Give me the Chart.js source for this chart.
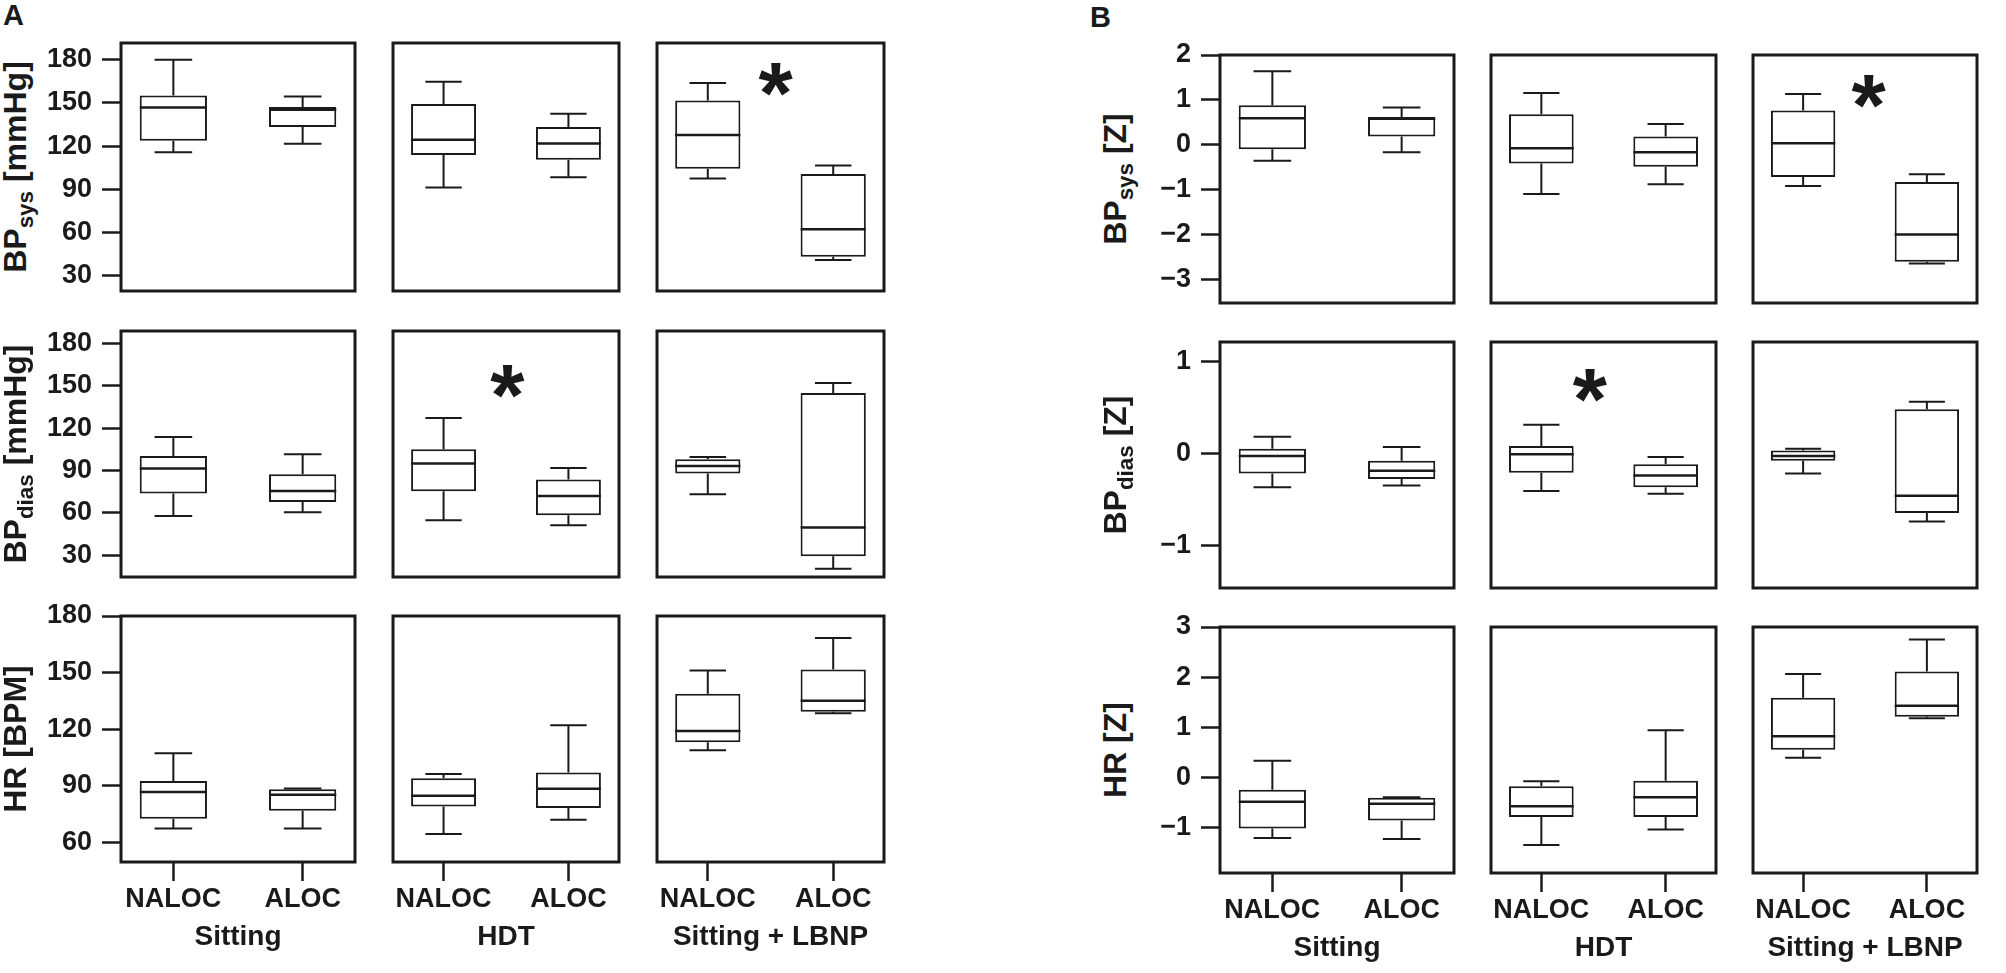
<!DOCTYPE html>
<html>
<head>
<meta charset="utf-8">
<script src="https://cdn.jsdelivr.net/npm/chart.js@4.4.0/dist/chart.umd.min.js"></script>
<style>
  html, body { margin: 0; padding: 0; background: #fff; overflow: hidden; }
  #wrap { position: relative; width: 2006px; height: 973px; font-family: "Liberation Sans", Arial, sans-serif; color: #1a1a1a; }
  canvas { position: absolute; }
  .lbl { position: absolute; font-weight: bold; font-size: 29px; line-height: 1; }
  .yt { position: absolute; font-weight: bold; font-size: 32px; line-height: 1; white-space: nowrap;
        transform: translate(-50%, -50%) rotate(-90deg); z-index: 2; }
  .yt sub { font-size: 0.7em; vertical-align: -0.3em; line-height: 0; }
</style>
</head>
<body>
<div id="wrap"></div>
<script>
const groups = ['NALOC', 'ALOC'];
const conditions = ['Sitting', 'HDT', 'Sitting + LBNP'];

// [min, q1, median, q3, max] for NALOC, ALOC
// A - raw values
const sysSitting  = [[115.8, 123.7, 146.8, 155.2, 180.0], [121.6, 133.2, 145.2, 147.1, 154.5]];
const sysHDT      = [[91.2, 113.9, 124.4, 149.2, 164.7], [98.4, 110.5, 121.8, 133.2, 142.4]];
const sysLBNP     = [[97.5, 104.2, 127.8, 151.7, 163.8], [41.0, 43.2, 62.3, 100.7, 106.5]];
const diasSitting = [[57.8, 73.7, 91.4, 100.3, 113.8], [60.4, 67.7, 75.5, 87.4, 101.5]];
const diasHDT     = [[54.8, 75.3, 95.0, 105.1, 127.3], [51.2, 58.3, 72.0, 83.6, 91.8]];
const diasLBNP    = [[73.2, 87.9, 93.3, 98.0, 99.6], [20.5, 29.3, 49.6, 145.0, 152.1]];
const hrSitting   = [[67.4, 72.5, 86.7, 92.6, 107.3], [67.3, 76.8, 85.2, 88.2, 88.6]];
const hrHDT       = [[64.5, 79.0, 84.7, 94.0, 96.3], [72.0, 78.2, 88.4, 97.0, 122.1]];
const hrLBNP      = [[108.9, 113.1, 119.1, 138.8, 151.1], [128.4, 129.3, 135.1, 151.7, 168.4]];
// B - z scores
const zSysSitting  = [[-0.36, -0.10, 0.59, 0.88, 1.64], [-0.17, 0.18, 0.58, 0.62, 0.83]];
const zSysHDT      = [[-1.10, -0.42, -0.08, 0.68, 1.15], [-0.88, -0.49, -0.17, 0.18, 0.46]];
const zSysLBNP     = [[-0.92, -0.72, 0.03, 0.76, 1.13], [-2.65, -2.61, -2.00, -0.83, -0.66]];
const zDiasSitting = [[-0.37, -0.22, -0.03, 0.05, 0.18], [-0.35, -0.28, -0.19, -0.08, 0.07]];
const zDiasHDT     = [[-0.41, -0.21, -0.01, 0.08, 0.31], [-0.44, -0.37, -0.24, -0.12, -0.04]];
const zDiasLBNP    = [[-0.22, -0.08, -0.03, 0.03, 0.05], [-0.74, -0.65, -0.46, 0.48, 0.56]];
const zHrSitting   = [[-1.21, -1.02, -0.49, -0.25, 0.33], [-1.23, -0.86, -0.53, -0.41, -0.40]];
const zHrHDT       = [[-1.35, -0.79, -0.58, -0.18, -0.08], [-1.04, -0.79, -0.40, -0.07, 0.94]];
const zHrLBNP      = [[0.39, 0.55, 0.82, 1.59, 2.06], [1.18, 1.21, 1.43, 2.11, 2.75]];

// significance markers: [x, y] in data units, per panel
const starSysLBNP   = [1.54, 166];
const starDiasHDT   = [1.51, 153];
const starZSysLBNP  = [1.53, 1.18];
const starZDiasHDT  = [1.39, 0.74];

const rawTicks = [[30, 60, 90, 120, 150, 180], [30, 60, 90, 120, 150, 180], [60, 90, 120, 150, 180]];
const zTicks   = [[-3, -2, -1, 0, 1, 2], [-1, 0, 1], [-1, 0, 1, 2, 3]];
const rawRanges = [[19.4, 191.6], [14.6, 188.9], [49.6, 180]];
const zRanges   = [[-3.53, 2], [-1.464, 1.21], [-1.91, 3]];

const rawTitles = ['BP<sub>sys</sub> [mmHg]', 'BP<sub>dias</sub> [mmHg]', 'HR [BPM]'];
const zTitles   = ['BP<sub>sys</sub> [Z]', 'BP<sub>dias</sub> [Z]', 'HR [Z]'];

const ink = '#1a1a1a';
const fam = '"Liberation Sans", Arial, sans-serif';

// frame positions of the panels
const layoutA = { cols: [[121, 355], [393, 619], [657, 884]], rows: [[43, 291], [331, 577], [616, 862]], titleX: 15, tag: [3, 1] };
const layoutB = { cols: [[1220, 1454], [1491, 1716], [1753, 1977]], rows: [[55, 303], [342, 588], [627, 873]], titleX: 1115, tag: [1090, 3] };

const boxPlugin = {
  id: 'boxplot',
  afterDatasetsDraw(chart, args, opts) {
    const { ctx, chartArea: a, scales: { x, y } } = chart;
    const meta = chart.getDatasetMeta(0);
    ctx.save();
    ctx.strokeStyle = ink;
    ctx.fillStyle = ink;
    opts.summary.forEach((s, i) => {
      const bar = meta.data[i];
      const cx = bar.x, hw = bar.width / 2, cw = hw * 0.56;
      const py = v => y.getPixelForValue(v);
      ctx.lineWidth = 2;
      ctx.beginPath();
      ctx.moveTo(cx, py(s[3])); ctx.lineTo(cx, py(s[4]));
      ctx.moveTo(cx - cw, py(s[4])); ctx.lineTo(cx + cw, py(s[4]));
      ctx.moveTo(cx, py(s[1])); ctx.lineTo(cx, py(s[0]));
      ctx.moveTo(cx - cw, py(s[0])); ctx.lineTo(cx + cw, py(s[0]));
      ctx.stroke();
      ctx.lineWidth = 2.5;
      ctx.beginPath();
      ctx.moveTo(cx - hw, py(s[2])); ctx.lineTo(cx + hw, py(s[2]));
      ctx.stroke();
    });
    if (opts.star) {
      ctx.font = 'bold 88px ' + fam;
      ctx.textAlign = 'center';
      ctx.textBaseline = 'alphabetic';
      const m = ctx.measureText('*');
      // centre the glyph's ink on the marker position
      const off = (m.actualBoundingBoxAscent - m.actualBoundingBoxDescent) / 2;
      ctx.fillText('*', x.getPixelForValue(opts.star[0]), y.getPixelForValue(opts.star[1]) + off);
    }
    ctx.lineWidth = 3;
    ctx.strokeRect(a.left, a.top, a.width, a.height);
    ctx.restore();
  }
};

const wrap = document.getElementById('wrap');

function makePanel(lay, r, c, summary, range, ticks, star) {
  const showY = c === 0, showX = r === 2;
  const [L, R] = lay.cols[c], [T, B] = lay.rows[r];
  // margins leave room for half a tick label above and below the y axis
  const padT = 30, padR = 16, axW = 82, axH = 92;
  const mL = showY ? axW : 6, mB = showX ? axH : 30;
  const cv = document.createElement('canvas');
  cv.width = (R - L) + mL + padR;
  cv.height = (B - T) + padT + mB;
  cv.style.left = (L - mL) + 'px';
  cv.style.top = (T - padT) + 'px';
  wrap.appendChild(cv);
  const tickFmt = v => (v < 0 ? '\u2212' + Math.abs(v) : String(v));
  new Chart(cv, {
    type: 'bar',
    data: {
      datasets: [{
        data: summary.map((s, i) => ({ x: i + 1, y: [s[1], s[3]] })),
        backgroundColor: '#fff',
        borderColor: ink,
        borderWidth: 2,
        borderSkipped: false,
        barPercentage: 0.52,
        categoryPercentage: 1
      }]
    },
    options: {
      responsive: false,
      animation: false,
      events: [],
      layout: { padding: { top: padT, right: padR, left: showY ? 0 : mL, bottom: showX ? 0 : mB } },
      plugins: {
        legend: { display: false },
        tooltip: { enabled: false },
        boxplot: { summary: summary, star: star }
      },
      scales: {
        x: {
          type: 'linear', min: 0.595, max: 2.405, offset: false, display: showX,
          afterBuildTicks: sc => { sc.ticks = [{ value: 1 }, { value: 2 }]; },
          afterFit: sc => { if (showX) sc.height = axH; },
          grid: { offset: false, drawOnChartArea: false, drawTicks: true, tickLength: 19, tickWidth: 2.5, tickColor: ink },
          border: { display: false },
          ticks: { autoSkip: false, maxRotation: 0, padding: 2, color: ink,
                   font: { family: fam, size: 27, weight: 'bold' },
                   callback: (v, i) => groups[i] },
          title: { display: true, text: conditions[c], color: ink,
                   font: { family: fam, size: 28, weight: 'bold' }, padding: { top: 0, bottom: 0 } }
        },
        y: {
          min: range[0], max: range[1], display: showY,
          afterBuildTicks: sc => { sc.ticks = ticks.map(v => ({ value: v })); },
          afterFit: sc => { if (showY) sc.width = axW; },
          grid: { drawOnChartArea: false, drawTicks: true, tickLength: 19, tickWidth: 2.5, tickColor: ink },
          border: { display: false },
          ticks: { autoSkip: false, padding: 10, color: ink, font: { family: fam, size: 27, weight: 'bold' }, callback: tickFmt }
        }
      }
    },
    plugins: [boxPlugin]
  });
}

function addText(cls, html, x, y) {
  const d = document.createElement('div');
  d.className = cls;
  d.innerHTML = html;
  d.style.left = x + 'px';
  d.style.top = y + 'px';
  wrap.appendChild(d);
}

const rawData = [[sysSitting, sysHDT, sysLBNP], [diasSitting, diasHDT, diasLBNP], [hrSitting, hrHDT, hrLBNP]];
const zData = [[zSysSitting, zSysHDT, zSysLBNP], [zDiasSitting, zDiasHDT, zDiasLBNP], [zHrSitting, zHrHDT, zHrLBNP]];
const rawStars = [[null, null, starSysLBNP], [null, starDiasHDT, null], [null, null, null]];
const zStars = [[null, null, starZSysLBNP], [null, starZDiasHDT, null], [null, null, null]];

function drawFigure(lay, data, ranges, tickSets, stars, titles, tag) {
  for (let r = 0; r < 3; r++) {
    for (let c = 0; c < 3; c++) {
      makePanel(lay, r, c, data[r][c], ranges[r], tickSets[r], stars[r][c]);
    }
    const cy = (lay.rows[r][0] + lay.rows[r][1]) / 2;
    addText('yt', titles[r], lay.titleX, cy);
  }
  addText('lbl', tag, lay.tag[0], lay.tag[1]);
}

drawFigure(layoutA, rawData, rawRanges, rawTicks, rawStars, rawTitles, 'A');
drawFigure(layoutB, zData, zRanges, zTicks, zStars, zTitles, 'B');
</script>
</body>
</html>
